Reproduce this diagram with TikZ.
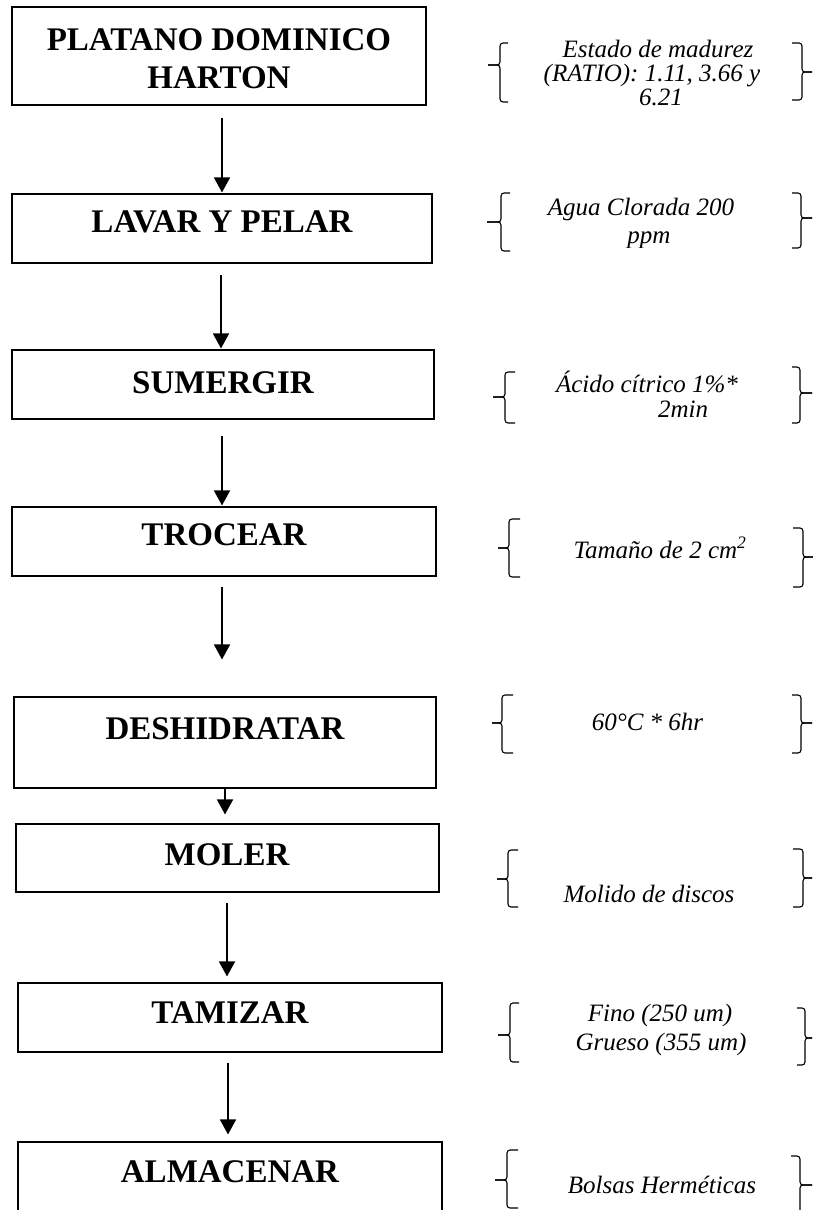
\documentclass[tikz,border=0pt]{standalone}
\usepackage{fontspec}
\setmainfont{Liberation Serif}
\usetikzlibrary{arrows.meta}
\newcommand\LeftBrc[6]{\draw[brc] (#3,#4) -- (#2,#4) -- (#2,#5) -- (#1,#5);
  \draw[brc] (#1,#5) -- (#2,#5) -- (#2,#6) -- (#3,#6);}
\newcommand\RightBrc[6]{\draw[brc] (#1,#4) -- (#2,#4) -- (#2,#5) -- (#3,#5);
  \draw[brc] (#3,#5) -- (#2,#5) -- (#2,#6) -- (#1,#6);}
\tikzset{
  box/.style={draw, line width=1.1pt, rectangle, inner sep=0pt},
  ttl/.style={font=\fontsize{33}{38}\selectfont\bfseries, align=center, inner sep=0pt},
  note/.style={font=\fontsize{25}{26}\selectfont\itshape, anchor=base, inner sep=0pt},
  arr/.style={line width=1.6pt, -{Triangle[width=16pt,length=15pt]}},
  brc/.style={line width=1.1pt, rounded corners=3pt},
}
\begin{document}
\begin{tikzpicture}[x=1pt,y=-1pt]
\useasboundingbox (0,0) rectangle (813,1210);
\clip (0,0) rectangle (813,1210);
% boxes
\node[box, minimum width=414pt, minimum height=98pt] (b1) at (219,56) {};
\node[box, minimum width=420pt, minimum height=69pt] (b2) at (222,228.5) {};
\node[box, minimum width=422pt, minimum height=69pt] (b3) at (223,384.5) {};
\node[box, minimum width=424pt, minimum height=69pt] (b4) at (224,541.5) {};
\node[box, minimum width=422pt, minimum height=91pt] (b5) at (225,742.5) {};
\node[box, minimum width=423pt, minimum height=68pt] (b6) at (227.5,858) {};
\node[box, minimum width=424pt, minimum height=69pt] (b7) at (230,1017.5) {};
\node[box, minimum width=424pt, minimum height=98pt] (b8) at (230,1191) {};
% titles
\node[ttl] (t1) at (219,59) {PLATANO DOMINICO\\HARTON};
\node[ttl] (t2) at (222,222) {LAVAR Y PELAR};
\node[ttl] (t3) at (223,383) {SUMERGIR};
\node[ttl] (t4) at (224,535) {TROCEAR};
\node[ttl] (t5) at (225,729) {DESHIDRATAR};
\node[ttl] (t6) at (227,855) {MOLER};
\node[ttl] (t7) at (230,1013) {TAMIZAR};
\node[ttl] (t8) at (230,1172) {ALMACENAR};
% arrows
\draw[arr] ([xshift=3pt,yshift=-12pt]b1.south) -- ([xshift=0pt,yshift=1pt]b2.north);
\draw[arr] ([xshift=-1pt,yshift=-11pt]b2.south) -- ([xshift=-2pt,yshift=1pt]b3.north);
\draw[arr] ([xshift=-1pt,yshift=-16pt]b3.south) -- ([xshift=-2pt,yshift=1pt]b4.north);
\draw[arr] ([xshift=-2pt,yshift=-10pt]b4.south) -- ([xshift=-3pt,yshift=37pt]b5.north);
\draw[arr] ([xshift=0pt]b5.south) -- ([xshift=-2.5pt,yshift=9pt]b6.north);
\draw[arr] ([xshift=-0.5pt,yshift=-10pt]b6.south) -- ([xshift=-3pt,yshift=6pt]b7.north);
\draw[arr] ([xshift=-2pt,yshift=-10pt]b7.south) -- ([xshift=-2pt,yshift=7pt]b8.north);
% braces
\LeftBrc{488}{500}{508}{43}{65}{102}    \RightBrc{792}{802}{812}{43}{72}{100}
\LeftBrc{487}{501}{510}{193}{222}{251}  \RightBrc{792}{801}{812}{193}{218}{248}
\LeftBrc{493}{505}{515}{372}{397}{423}  \RightBrc{792}{800}{812}{367}{393}{423}
\LeftBrc{498}{509}{520}{519}{548}{577}  \RightBrc{793}{803}{813}{528}{557}{587}
\LeftBrc{492}{502}{513}{695}{723}{753}  \RightBrc{792}{801}{812}{695}{723}{753}
\LeftBrc{497}{508}{518}{850}{879}{907}  \RightBrc{793}{803}{812}{849}{878}{907}
\LeftBrc{498}{510}{519}{1003}{1035}{1062} \RightBrc{797}{805}{812}{1008}{1038}{1065}
\LeftBrc{495}{507}{518}{1150}{1180}{1208} \RightBrc{791}{800}{812}{1156}{1185}{1214}
% notes
\node[note] (n1a) at (658,57) {Estado de madurez};
\node[note] (n1b) at (652,81) {(RATIO): 1.11, 3.66 y};
\node[note] (n1c) at (661,105) {6.21};
\node[note] (n2a) at (641,215) {Agua Clorada 200};
\begin{scope}
\clip (560,225) rectangle (740,247);
\node[note] (n2b) at (649,243) {ppm};
\end{scope}
\node[note] (n3a) at (647,392) {Ácido cítrico 1\%*};
\node[note] (n3b) at (683,417) {2min};
\node[note] (n4) at (660,558) {Tamaño de 2 cm\textsuperscript{2}};
\node[note] (n5) at (647.5,730) {60°C * 6hr};
\node[note] (n6) at (649,902) {Molido de discos};
\node[note] (n7a) at (660,1021) {Fino (250 um)};
\node[note] (n7b) at (661,1050) {Grueso (355 um)};
\node[note] (n8) at (662,1193) {Bolsas Herméticas};
\end{tikzpicture}
\end{document}
